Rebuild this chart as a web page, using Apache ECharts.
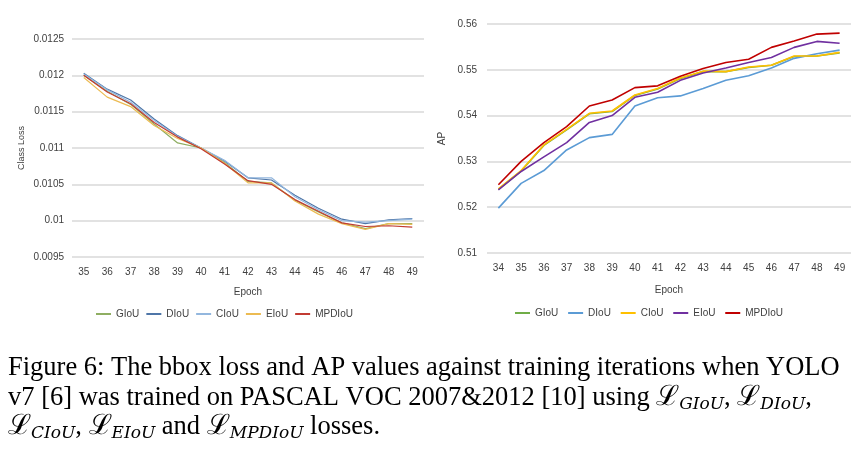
<!DOCTYPE html>
<html>
<head>
<meta charset="utf-8">
<script src="https://cdn.jsdelivr.net/npm/echarts@6/dist/echarts.min.js"></script>
<style>html,body{margin:0;padding:0;background:#fff}#c{width:863px;height:454px}</style>
</head>
<body>
<div id="c"></div>
<script>
// ---- Left chart: Class Loss ----
const lossEpochs = ['35','36','37','38','39','40','41','42','43','44','45','46','47','48','49'];
const lossGIoU   = [0.01200,0.01178,0.01160,0.01133,0.01107,0.01100,0.01080,0.01054,0.01052,0.01028,0.01012,0.00997,0.00989,0.00996,0.00996];
const lossDIoU   = [0.01203,0.01181,0.01166,0.01140,0.01117,0.01100,0.01082,0.01059,0.01056,0.01035,0.01017,0.01002,0.00996,0.01001,0.01003];
const lossCIoU   = [0.01202,0.01180,0.01163,0.01138,0.01116,0.01100,0.01083,0.01059,0.01059,0.01033,0.01015,0.01000,0.00998,0.01000,0.01002];
const lossEIoU   = [0.01197,0.01170,0.01157,0.01131,0.01113,0.01100,0.01079,0.01052,0.01052,0.01027,0.01009,0.00996,0.00988,0.00996,0.00995];
const lossMPDIoU = [0.01200,0.01177,0.01161,0.01135,0.01115,0.01099,0.01078,0.01055,0.01050,0.01029,0.01013,0.00997,0.00992,0.00993,0.00991];

// ---- Right chart: AP ----
const apEpochs = ['34','35','36','37','38','39','40','41','42','43','44','45','46','47','48','49'];
const apGIoU   = [0.5239,0.5279,0.5335,0.5369,0.5404,0.5409,0.5444,0.5458,0.5481,0.5496,0.5496,0.5505,0.5510,0.5529,0.5530,0.5537];
const apDIoU   = [0.5198,0.5252,0.5280,0.5325,0.5352,0.5359,0.5421,0.5439,0.5443,0.5459,0.5477,0.5487,0.5504,0.5525,0.5535,0.5543];
const apCIoU   = [0.5240,0.5280,0.5336,0.5370,0.5405,0.5410,0.5445,0.5459,0.5482,0.5497,0.5496,0.5506,0.5510,0.5530,0.5530,0.5538];
const apEIoU   = [0.5238,0.5278,0.5310,0.5341,0.5385,0.5400,0.5440,0.5451,0.5477,0.5493,0.5504,0.5516,0.5527,0.5549,0.5562,0.5558];
const apMPDIoU = [0.5249,0.5300,0.5341,0.5376,0.5421,0.5434,0.5461,0.5465,0.5486,0.5503,0.5516,0.5523,0.5549,0.5563,0.5578,0.5580];

const seriesNames = ['GIoU','DIoU','CIoU','EIoU','MPDIoU'];
const leftColors  = ['#8fae62','#4f76a8','#93b7de','#ecbb52','#c23b32'];
const rightColors = ['#70ad47','#5b9bd5','#ffc000','#7030a0','#c00000'];

const chart = echarts.init(document.getElementById('c'), null, {renderer:'canvas'});
const font = 'Liberation Sans';
const lossData = [lossGIoU,lossDIoU,lossCIoU,lossEIoU,lossMPDIoU];
const apData = [apGIoU,apDIoU,apCIoU,apEIoU,apMPDIoU];

const series = [];
seriesNames.forEach((n,i)=>{
  series.push({name:n, type:'line', xAxisIndex:0, yAxisIndex:0, data:lossData[i], symbol:'none',
    lineStyle:{width:1.2, color:leftColors[i]}, itemStyle:{color:leftColors[i]}, animation:false});
});
seriesNames.forEach((n,i)=>{
  series.push({name:n+' ', type:'line', xAxisIndex:1, yAxisIndex:1, data:apData[i], symbol:'none',
    lineStyle:{width:1.6, color:rightColors[i]}, itemStyle:{color:rightColors[i]}, animation:false});
});

const fmt4 = v => String(parseFloat(v.toFixed(4)));
const axisText = {color:'#404040', fontFamily:font, fontSize:10};

const serif = 'Liberation Serif';
const rich = {
  n:{fontFamily:serif, fontSize:26.5, lineHeight:30, color:'#000'},
  L:{fontFamily:'DejaVu Serif', fontSize:28, lineHeight:30, color:'#000'},
  s:{fontFamily:'DejaVu Serif', fontSize:17, fontStyle:'italic', lineHeight:14, verticalAlign:'bottom', color:'#000'}
};

chart.setOption({
  animation:false,
  grid:[
    {left:72, right:439, top:39, bottom:197},
    {left:487, right:12, top:24, bottom:201}
  ],
  legend:[
    {data:seriesNames, left:91, top:304, icon:'rect', itemWidth:15, itemHeight:2, itemGap:7,
     textStyle:{color:'#404040', fontFamily:font, fontSize:10}},
    {data:seriesNames.map(n=>n+' '), left:510, top:303, icon:'rect', itemWidth:15, itemHeight:2, itemGap:7,
     textStyle:{color:'#404040', fontFamily:font, fontSize:10}}
  ],
  xAxis:[
    {type:'category', gridIndex:0, data:lossEpochs, boundaryGap:true, name:'Epoch', nameLocation:'middle', nameGap:30,
     nameTextStyle:axisText, axisLabel:Object.assign({margin:10}, axisText), axisTick:{show:false},
     axisLine:{show:false}},
    {type:'category', gridIndex:1, data:apEpochs, boundaryGap:true, name:'Epoch', nameLocation:'middle', nameGap:32,
     nameTextStyle:axisText, axisLabel:Object.assign({margin:10}, axisText), axisTick:{show:false},
     axisLine:{show:false}}
  ],
  yAxis:[
    {type:'value', gridIndex:0, min:0.0095, max:0.0125, interval:0.0005, name:'Class Loss', nameLocation:'middle',
     nameGap:46, nameRotate:90, nameTextStyle:{color:'#404040', fontFamily:font, fontSize:9},
     axisLabel:Object.assign({formatter:fmt4, margin:8}, axisText),
     splitLine:{lineStyle:{color:'#d9d9d9', width:1.5}}, axisLine:{show:false}, axisTick:{show:false}},
    {type:'value', gridIndex:1, min:0.51, max:0.56, interval:0.01, name:'AP', nameLocation:'middle',
     nameGap:40, nameRotate:90, nameTextStyle:{color:'#404040', fontFamily:font, fontSize:10},
     axisLabel:Object.assign({formatter:v=>String(parseFloat(v.toFixed(2))), margin:10}, axisText),
     splitLine:{lineStyle:{color:'#d9d9d9', width:1.5}}, axisLine:{show:false}, axisTick:{show:false}}
  ],
  series:series,
  graphic:[
    {type:'text', left:8, top:355, style:{text:'{n|Figure 6: The bbox loss and AP values against training iterations when YOLO}', rich:rich}},
    {type:'text', left:8, top:384, style:{text:'{n|v7 [6] was trained on PASCAL VOC 2007&2012 [10] using }{L|ℒ}{s|GIoU}{n|, }{L|ℒ}{s|DIoU}{n|,}', rich:rich}},
    {type:'text', left:8, top:413, style:{text:'{L|ℒ}{s|CIoU}{n|, }{L|ℒ}{s|EIoU}{n| and }{L|ℒ}{s|MPDIoU}{n| losses.}', rich:rich}}
  ]
});
</script>
</body>
</html>
